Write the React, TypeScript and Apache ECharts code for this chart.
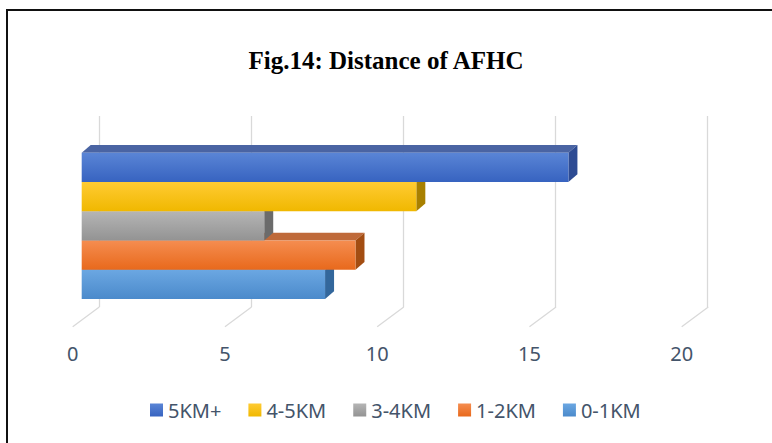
import React, { useEffect, useRef } from 'react';
import * as echarts from 'echarts';

// Chart title and data (categories listed bottom to top as stacked on the axis)
const chartTitle = 'Fig.14: Distance of AFHC';
const categories = ['0-1KM', '1-2KM', '3-4KM', '4-5KM', '5KM+'];
const values = [8, 9, 6, 11, 16];
const legendOrder = ['5KM+', '4-5KM', '3-4KM', '1-2KM', '0-1KM'];
const tickValues = [0, 5, 10, 15, 20];

// Face colours for each bar: front gradient (light -> dark), top cap, right side
const faceColors: Record<string, { light: string; dark: string; cap: string; side: string }> = {
  '0-1KM': { light: '#6ba7e2', dark: '#4b8acb', cap: '#5b87b8', side: '#33679c' },
  '1-2KM': { light: '#f58d50', dark: '#e8691c', cap: '#bf6a3a', side: '#a34d12' },
  '3-4KM': { light: '#b5b5b5', dark: '#939393', cap: '#8a8a8a', side: '#6b6b6b' },
  '4-5KM': { light: '#ffcb33', dark: '#f0b800', cap: '#b88f10', side: '#a88000' },
  '5KM+': { light: '#5a85d6', dark: '#3763c0', cap: '#4a64a3', side: '#2d4b93' },
};

// 3D depth vector of the plot box (back wall offset from the front plane)
const BAR_DX = 9;
const BAR_DY = 7.7;
const FLOOR_DX = 26.6;
const FLOOR_DY = 19.6;

const frontGradient = (name: string) =>
  new echarts.graphic.LinearGradient(0, 0, 0, 1, [
    { offset: 0, color: faceColors[name].light },
    { offset: 1, color: faceColors[name].dark },
  ]);

export default function App() {
  const ref = useRef<HTMLDivElement>(null);

  useEffect(() => {
    if (!ref.current) return;
    const chart = echarts.init(ref.current, undefined, { renderer: 'svg' });

    const barSeries = categories.map((name, idx) => ({
      name,
      type: 'custom' as const,
      xAxisIndex: 0,
      yAxisIndex: 0,
      z: 10 + idx,
      itemStyle: { color: frontGradient(name) },
      encode: { x: 0, y: 1 },
      data: [[values[idx], idx]],
      renderItem: (_params: any, api: any) => {
        const v = api.value(0);
        const c = api.value(1);
        const start = api.coord([0, c]);
        const end = api.coord([v, c]);
        const h = api.size([0, 1])[1];
        const x0 = start[0];
        const x1 = end[0];
        const yTop = start[1] - h / 2;
        const yBot = start[1] + h / 2;
        const col = faceColors[name];
        return {
          type: 'group',
          children: [
            {
              type: 'polygon',
              shape: {
                points: [
                  [x0, yTop],
                  [x1, yTop],
                  [x1 + BAR_DX, yTop - BAR_DY],
                  [x0 + BAR_DX, yTop - BAR_DY],
                ],
              },
              style: { fill: col.cap },
            },
            {
              type: 'polygon',
              shape: {
                points: [
                  [x1, yTop],
                  [x1 + BAR_DX, yTop - BAR_DY],
                  [x1 + BAR_DX, yBot - BAR_DY],
                  [x1, yBot],
                ],
              },
              style: { fill: col.side },
            },
            {
              type: 'rect',
              shape: { x: x0, y: yTop, width: x1 - x0, height: h },
              style: { fill: frontGradient(name) },
            },
          ],
        };
      },
    }));

    const floorSeries = {
      name: 'floor',
      type: 'custom' as const,
      xAxisIndex: 2,
      yAxisIndex: 2,
      silent: true,
      z: 1,
      data: tickValues.map((t) => [t, 0]),
      renderItem: (_params: any, api: any) => {
        const p = api.coord([api.value(0), 0]);
        return {
          type: 'line',
          shape: { x1: p[0], y1: p[1], x2: p[0] + FLOOR_DX, y2: p[1] - FLOOR_DY },
          style: { stroke: '#d9d9d9', lineWidth: 1.3 },
        };
      },
    };

    const labelColor = '#44546a';
    const font = 'Noto Sans, sans-serif';

    chart.setOption({
      animation: false,
      backgroundColor: '#ffffff',
      title: {
        text: chartTitle,
        left: 'center',
        top: 43,
        textStyle: {
          fontFamily: 'Liberation Serif, serif',
          fontWeight: 'bold',
          fontSize: 25,
          color: '#000000',
        },
      },
      legend: {
        data: legendOrder,
        top: 395,
        left: 145,
        icon: 'rect',
        itemWidth: 13,
        itemHeight: 13,
        itemGap: 27,
        textStyle: { fontFamily: font, fontSize: 20, color: labelColor },
      },
      grid: [
        // front plane where the bars sit
        { left: 81.7, width: 608.4, top: 152.7, height: 146.3 },
        // back wall carrying the vertical gridlines
        { left: 99.3, width: 608.4, top: 116, height: 191 },
        // front edge of the floor carrying the tick labels
        { left: 72.7, width: 609, top: 300, height: 26.7 },
      ],
      xAxis: [
        { gridIndex: 0, type: 'value', min: 0, max: 20, interval: 5, show: false },
        {
          gridIndex: 1,
          type: 'value',
          min: 0,
          max: 20,
          interval: 5,
          axisLine: { show: false },
          axisTick: { show: false },
          axisLabel: { show: false },
          splitLine: { show: true, lineStyle: { color: '#d9d9d9', width: 1.3 } },
        },
        {
          gridIndex: 2,
          type: 'value',
          min: 0,
          max: 20,
          interval: 5,
          axisLine: { show: false },
          axisTick: { show: false },
          splitLine: { show: false },
          axisLabel: { margin: 17, fontFamily: font, fontSize: 20, color: labelColor },
        },
      ],
      yAxis: [
        { gridIndex: 0, type: 'category', data: categories, show: false },
        { gridIndex: 1, type: 'value', show: false },
        { gridIndex: 2, type: 'value', min: 0, max: 1, show: false },
      ],
      graphic: [
        { type: 'line', shape: { x1: 6, y1: 10, x2: 772, y2: 10 }, style: { stroke: '#111111', lineWidth: 2 } },
        { type: 'line', shape: { x1: 7, y1: 9, x2: 7, y2: 443 }, style: { stroke: '#111111', lineWidth: 2 } },
      ],
      series: [floorSeries, ...barSeries],
    });

    return () => chart.dispose();
  }, []);

  return (
    <div
      ref={ref}
      style={{ position: 'fixed', left: 0, top: 0, width: 772, height: 443, background: '#fff' }}
    />
  );
}
